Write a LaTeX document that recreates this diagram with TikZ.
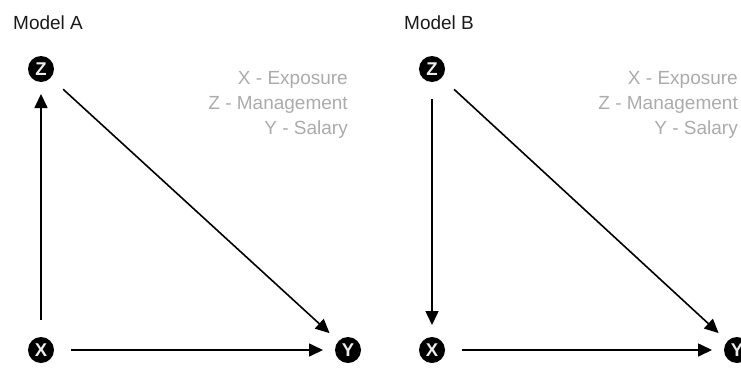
\documentclass[tikz,border=0pt]{standalone}
\usepackage{fontspec}
\setmainfont{Liberation Sans}
\usetikzlibrary{arrows.meta}
\definecolor{legendgray}{HTML}{ABABAB}
\definecolor{titlecol}{HTML}{1A1A1A}
\tikzset{
  var/.style={circle, fill=black, minimum size=26pt, inner sep=0pt, outer sep=0pt,
    text=white!93!black, font=\fontsize{18.5}{18.5}\selectfont\bfseries},
  edge/.style={line width=1.6pt, -{Triangle[length=14pt,width=13pt]},
    shorten <=17pt, shorten >=12pt},
  legend/.style={anchor=base east, inner sep=0pt, text=legendgray,
    font=\fontsize{19}{19}\selectfont},
  ttl/.style={anchor=base west, inner sep=0pt, text=titlecol,
    font=\fontsize{19}{19}\selectfont}
}
\begin{document}
\begin{tikzpicture}[x=1pt,y=-1pt]
\useasboundingbox (0,0) rectangle (741,367);
% Model A
\node[ttl] (ta) at (13,29) {Model A};
\node[var] (za) at (41,69) {Z};
\node[var] (xa) at (41,350) {X};
\node[var] (ya) at (348,350) {Y};
\node[legend] (la1) at (348,84) {X - Exposure};
\node[legend] (la2) at (348,109) {Z - Management};
\node[legend] (la3) at (348,134) {Y - Salary};
\draw[edge] (xa) -- (za);
\draw[edge] (za) -- (ya);
\draw[edge] (xa) -- (ya);
% Model B
\node[ttl] (tb) at (404,29) {Model B};
\node[var] (zb) at (432,69) {Z};
\node[var] (xb) at (432,350) {X};
\node[var] (yb) at (737,350) {Y};
\node[legend] (lb1) at (738,84) {X - Exposure};
\node[legend] (lb2) at (738,109) {Z - Management};
\node[legend] (lb3) at (738,134) {Y - Salary};
\draw[edge] (zb) -- (xb);
\draw[edge] (zb) -- (yb);
\draw[edge] (xb) -- (yb);
\end{tikzpicture}
\end{document}
